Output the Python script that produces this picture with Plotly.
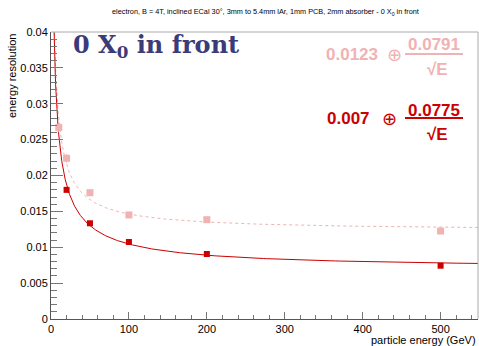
import numpy as np
import plotly.graph_objects as go

# data
energies_dark = [20, 50, 100, 200, 500]
res_dark = [0.0180, 0.01334, 0.01073, 0.00906, 0.00743]
err_dark = [0.0002, 0.0002, 0.0001, 0.0001, 0.0001]
energies_light = [10, 20, 50, 100, 200, 500]
res_light = [0.0267, 0.0224, 0.0176, 0.0145, 0.01384, 0.01226]
err_light = [0.0007, 0.0006, 0.0003, 0.0002, 0.0002, 0.0002]

fit_dark = (0.007, 0.0775)
fit_light = (0.0123, 0.0791)

y_ticks = [0, 0.005, 0.01, 0.015, 0.02, 0.025, 0.03, 0.035, 0.04]
y_tick_text = ["0", "0.005", "0.01", "0.015", "0.02", "0.025", "0.03", "0.035", "0.04"]
x_ticks = [0, 100, 200, 300, 400, 500]

DARK = "#CC0000"
LIGHT = "#F0B2B2"
NAVY = "#3B3B7A"

E = np.geomspace(3.5, 548, 400)
def res(p, e):
    return np.sqrt(p[0] ** 2 + p[1] ** 2 / e)

fig = go.Figure()
fig.add_trace(go.Scatter(x=E, y=res(fit_light, E), mode="lines",
                         line=dict(color=LIGHT, width=1, dash="3px,3px"), showlegend=False))
fig.add_trace(go.Scatter(x=E, y=res(fit_dark, E), mode="lines",
                         line=dict(color=DARK, width=1), showlegend=False))
fig.add_trace(go.Scatter(x=energies_dark, y=res_dark, mode="markers",
                         marker=dict(symbol="square", size=6, color=DARK),
                         error_y=dict(array=err_dark, color=DARK, thickness=1, width=0),
                         showlegend=False))
fig.add_trace(go.Scatter(x=energies_light, y=res_light, mode="markers",
                         marker=dict(symbol="square", size=7, color=LIGHT),
                         error_y=dict(array=err_light, color=LIGHT, thickness=1, width=0),
                         showlegend=False))

fig.update_layout(
    template="none",
    width=479, height=346,
    margin=dict(l=51, r=1, t=32, b=27, autoexpand=False),
    paper_bgcolor="white", plot_bgcolor="white",
    font=dict(family="Liberation Sans, Arial, sans-serif", color="black", size=11),
    xaxis=dict(range=[0, 548], showgrid=False, zeroline=False, showline=True,
               automargin=False, linecolor="#555", linewidth=1,
               tickvals=x_ticks, ticks="inside", ticklen=7, tickcolor="#777",
               minor=dict(ticks="inside", ticklen=4, dtick=20, tickcolor="#777", showgrid=False),
               tickfont=dict(size=11)),
    yaxis=dict(range=[0, 0.04], showgrid=False, zeroline=False, showline=True,
               automargin=False, linecolor="#555", linewidth=1,
               tickvals=y_ticks, ticktext=y_tick_text, ticks="inside", ticklen=12,
               tickcolor="#777",
               minor=dict(ticks="inside", ticklen=6, dtick=0.001, tickcolor="#777", showgrid=False),
               tickfont=dict(size=11)),
)

# frame top/right
fig.add_shape(type="line", xref="paper", yref="paper", x0=0, x1=1, y0=1, y1=1,
              line=dict(color="#aaa", width=1))
fig.add_shape(type="line", xref="paper", yref="paper", x0=1, x1=1, y0=0, y1=1,
              line=dict(color="#aaa", width=1))

def px(x):
    return (x - 51) / 427
def py(y):
    return 1 - (y - 32) / 287

ann = []
ann.append(dict(text="electron, B = 4T, inclined ECal 30°, 3mm to 5.4mm lAr, 1mm PCB, 2mm absorber - 0 X<sub>0</sub> in front",
                x=px(265), y=py(12), xanchor="center", yanchor="middle", font=dict(size=7.3)))
ann.append(dict(text="energy resolution", x=px(12), y=1, textangle=-90,
                xanchor="center", yanchor="top", font=dict(size=11)))
ann.append(dict(text="particle energy (GeV)", x=1, y=py(340),
                xanchor="right", yanchor="middle", font=dict(size=11)))
ann.append(dict(text="<b>0 X<sub>0</sub> in front</b>", x=px(71), y=py(46),
                xanchor="left", yanchor="middle",
                font=dict(family="DejaVu Serif, Liberation Serif, serif", size=24, color=NAVY)))

def formula(const, stoch, color, yc, cx, ox):
    out = [
        dict(text="<b>%s</b>" % const, x=px(cx), y=py(yc), xanchor="right", yanchor="middle",
             font=dict(size=17, color=color)),
        dict(text="⊕", x=px(ox), y=py(yc), xanchor="center", yanchor="middle",
             font=dict(size=18, color=color, family="DejaVu Sans, sans-serif")),
        dict(text="<b>%s</b>" % stoch, x=px(434), y=py(yc - 9), xanchor="center", yanchor="middle",
             font=dict(size=17, color=color)),
        dict(text="<b>√E</b>", x=px(437), y=py(yc + 15), xanchor="center", yanchor="middle",
             font=dict(size=17, color=color)),
    ]
    return out

ann += formula("0.0123", "0.0791", LIGHT, 54, 380, 394)
ann += formula("0.007", "0.0775", DARK, 119, 372, 389)
for a in ann:
    a.update(xref="paper", yref="paper", showarrow=False)
fig.update_layout(annotations=ann)

# fraction bars
for yb, c in [(54, LIGHT), (118, DARK)]:
    fig.add_shape(type="line", xref="paper", yref="paper", x0=px(405), x1=px(463),
                  y0=py(yb), y1=py(yb), line=dict(color=c, width=2))

fig.write_html("out.html", config={"displayModeBar": False},
               post_script="document.body.style.margin='0';document.body.style.overflow='hidden';")
